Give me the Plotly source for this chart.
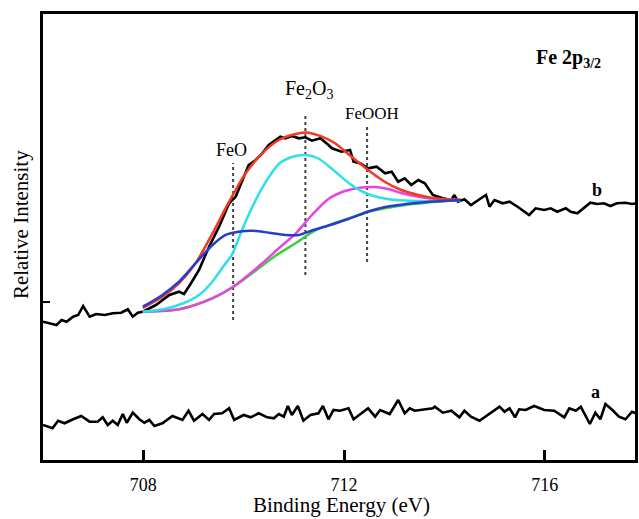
import plotly.graph_objects as go

# ---------------- data (binding energy in eV, intensity in arbitrary units) ----------------
a_x = [706.00, 706.19, 706.30, 706.43, 706.60, 706.76, 706.93, 707.09, 707.19, 707.29, 707.39, 707.49,
       707.59, 707.67, 707.79, 707.92, 708.02, 708.12, 708.22, 708.38, 708.58, 708.78, 708.90, 709.01,
       709.18, 709.31, 709.41, 709.57, 709.71, 709.81, 710.00, 710.14, 710.30, 710.47, 710.60, 710.70,
       710.80, 710.88, 710.96, 711.08, 711.19, 711.33, 711.49, 711.58, 711.69, 711.79, 711.92, 712.09,
       712.19, 712.35, 712.48, 712.62, 712.72, 712.91, 713.08, 713.21, 713.31, 713.41, 713.58, 713.77,
       713.81, 713.97, 714.14, 714.30, 714.40, 714.53, 714.70, 714.90, 715.10, 715.20, 715.30, 715.41,
       715.49, 715.62, 715.79, 715.99, 716.19, 716.39, 716.49, 716.62, 716.72, 716.90, 717.01, 717.11,
       717.21, 717.35, 717.48, 717.61, 717.74, 717.82]
a_y = [7.85, 7.11, 8.81, 8.23, 9.13, 9.87, 8.59, 8.59, 9.57, 7.85, 8.81, 7.85,
       10.31, 8.36, 10.61, 9.13, 8.36, 8.97, 7.62, 8.23, 9.87, 8.97, 11.05, 8.81,
       10.31, 8.97, 10.31, 10.47, 11.59, 8.97, 10.09, 9.57, 10.47, 9.57, 9.35, 10.31,
       9.71, 12.11, 10.09, 12.11, 8.81, 10.09, 10.47, 12.11, 9.13, 11.21, 11.05, 11.59,
       9.13, 10.47, 11.59, 9.71, 11.21, 10.31, 13.45, 10.47, 11.59, 11.05, 11.37, 11.59,
       11.95, 10.61, 11.05, 9.57, 11.05, 9.71, 8.81, 10.31, 11.95, 10.83, 11.59, 9.57,
       11.37, 11.21, 12.11, 11.21, 11.05, 9.57, 11.59, 11.05, 11.95, 8.07, 10.61, 9.13,
       12.56, 11.21, 9.71, 9.13, 10.83, 10.47]

b_x = [706.00, 706.17, 706.27, 706.37, 706.47, 706.60, 706.70, 706.80, 706.93, 707.06, 707.23, 707.39,
       707.56, 707.69, 707.79, 707.89, 707.95, 707.99, 708.25, 708.52, 708.71, 708.81, 708.95, 709.11,
       709.18, 709.31, 709.51, 709.64, 709.71, 709.84, 710.00, 710.10, 710.24, 710.37, 710.50, 710.63,
       710.73, 710.83, 710.96, 711.10, 711.23, 711.36, 711.53, 711.69, 711.76, 711.95, 712.12, 712.19,
       712.32, 712.48, 712.65, 712.82, 712.95, 713.08, 713.21, 713.34, 713.48, 713.61, 713.77, 713.97,
       714.14, 714.20, 714.27, 714.40, 714.53, 714.73, 714.83, 714.90, 715.00, 715.16, 715.30, 715.46,
       715.69, 715.82, 715.99, 716.12, 716.25, 716.42, 716.52, 716.65, 716.78, 716.91, 717.05, 717.18,
       717.31, 717.44, 717.61, 717.74, 717.82]
b_y = [31.01, 30.65, 30.27, 31.39, 31.01, 32.13, 32.51, 34.53, 32.13, 32.74, 32.51, 32.89,
       33.03, 33.79, 32.13, 33.03, 33.25, 33.25, 34.75, 37.00, 37.74, 37.22, 39.62, 42.60,
       44.46, 47.83, 52.31, 55.67, 57.56, 59.04, 63.16, 66.14, 67.26, 68.77, 70.63, 71.59,
       72.49, 72.13, 72.65, 72.13, 72.35, 71.59, 72.13, 70.63, 69.89, 69.13, 69.51, 66.88,
       66.52, 65.40, 65.76, 64.28, 64.64, 62.40, 63.16, 61.66, 62.78, 62.04, 59.42, 58.68,
       58.30, 59.42, 57.91, 58.45, 57.17, 58.68, 59.42, 56.79, 58.30, 57.56, 57.91, 56.79,
       54.93, 56.43, 56.05, 56.43, 55.67, 56.43, 55.67, 55.31, 56.43, 57.69, 57.40, 57.56,
       56.95, 57.56, 57.69, 57.40, 57.56]

# fitted envelope and components
env_x = [707.99, 708.38, 708.71, 709.04, 709.38, 709.71, 710.04, 710.37, 710.70, 711.04, 711.29, 711.56,
         711.82, 712.15, 712.48, 712.81, 713.14, 713.48, 713.81, 714.33]
env_y = [34.08, 36.61, 39.62, 44.10, 50.83, 57.91, 64.28, 68.77, 71.75, 73.09, 73.39, 72.49,
         71.01, 68.00, 65.02, 62.40, 60.54, 59.42, 58.68, 58.30]

feo_x = [707.99, 708.38, 708.71, 709.04, 709.38, 709.64, 709.90, 710.17, 710.50, 710.83, 711.10, 711.36,
         711.69, 712.09, 712.48, 712.82, 713.48, 714.33]
feo_y = [34.37, 37.00, 39.98, 44.10, 48.21, 50.45, 51.19, 51.41, 50.96, 50.45, 50.45, 51.46,
         52.58, 54.04, 55.72, 56.73, 57.69, 58.30]

fe2o3_x = [707.99, 708.42, 708.81, 709.11, 709.37, 709.60, 709.76, 710.00, 710.20, 710.44, 710.70, 710.96,
           711.23, 711.49, 711.81, 712.08, 712.38, 712.70, 713.10, 713.67, 714.33]
fe2o3_y = [33.25, 33.86, 35.20, 37.00, 39.91, 43.50, 45.96, 52.47, 57.40, 62.33, 66.37, 67.94,
           68.39, 67.60, 64.80, 62.22, 60.09, 58.86, 58.23, 58.07, 58.30]

feooh_x = [707.99, 708.71, 709.37, 709.79, 710.37, 710.70, 711.04, 711.36, 711.69, 712.02, 712.35, 712.62,
           712.88, 713.14, 713.48, 713.94, 714.33]
feooh_y = [33.25, 33.79, 36.26, 38.86, 44.10, 47.47, 50.83, 54.93, 58.52, 60.31, 61.10, 61.21,
           60.76, 59.87, 59.04, 58.41, 58.30]

bg_x = [707.99, 708.71, 709.37, 709.79, 710.20, 710.60, 711.04, 711.43, 711.89, 712.48, 713.08, 713.67, 714.33]
bg_y = [33.25, 33.79, 36.21, 38.79, 42.15, 45.52, 48.65, 51.46, 53.36, 55.61, 56.95, 57.74, 58.30]

# peak markers: position, top, bottom
mark_x = [709.79, 711.23, 712.46]
mark_top = [66.6, 77.3, 75.1]
mark_bot = [31.4, 41.5, 44.4]

tick_vals = [708, 712, 716]
tick_text = ["708", "712", "716"]

SERIF = "Liberation Serif, Times New Roman, serif"

fig = go.Figure()

for xv, yt, yb in zip(mark_x, mark_top, mark_bot):
    fig.add_trace(go.Scatter(x=[xv, xv], y=[yb, yt], mode="lines",
                             line=dict(color="#444444", width=2, dash="dot"),
                             hoverinfo="skip", showlegend=False))

fig.add_trace(go.Scatter(x=a_x, y=a_y, mode="lines", line=dict(color="black", width=2.6),
                         showlegend=False))
fig.add_trace(go.Scatter(x=b_x, y=b_y, mode="lines", line=dict(color="black", width=2.6),
                         showlegend=False))

comp = [
    (bg_x, bg_y, "#3ccf3c"),
    (feooh_x, feooh_y, "#e645e0"),
    (fe2o3_x, fe2o3_y, "#2ee0e8"),
    (env_x, env_y, "#f23a22"),
    (feo_x, feo_y, "#2a3ccc"),
]
for xs, ys, col in comp:
    fig.add_trace(go.Scatter(x=xs, y=ys, mode="lines",
                             line=dict(color=col, width=2.5, shape="spline", smoothing=0.8),
                             showlegend=False))

ann = [
    dict(x=709.75, y=69.5, text="FeO", font=dict(size=18)),
    dict(x=711.30, y=83.0, text="Fe<sub>2</sub>O<sub>3</sub>", font=dict(size=20)),
    dict(x=712.55, y=77.6, text="FeOOH", font=dict(size=17)),
    dict(x=715.78, y=90.0, text="<b>Fe 2p<sub>3/2</sub></b>", font=dict(size=20), xanchor="left"),
    dict(x=717.05, y=60.5, text="<b>b</b>", font=dict(size=18)),
    dict(x=717.01, y=15.2, text="<b>a</b>", font=dict(size=18)),
]
for a in ann:
    a.setdefault("xanchor", "center")
    a["font"].update(family=SERIF, color="black")
    fig.add_annotation(xref="x", yref="y", showarrow=False, yanchor="middle", **a)

fig.add_annotation(xref="paper", yref="paper", x=0.505, y=-0.102, text="Binding Energy (eV)",
                   showarrow=False, font=dict(family=SERIF, size=21, color="black"),
                   xanchor="center", yanchor="middle")
fig.add_annotation(xref="paper", yref="paper", x=-0.037, y=0.527, text="Relative Intensity",
                   showarrow=False, textangle=-90, font=dict(family=SERIF, size=21, color="black"),
                   xanchor="center", yanchor="middle")

fig.update_layout(
    width=639, height=519,
    margin=dict(l=43, r=1, t=14, b=59),
    paper_bgcolor="white", plot_bgcolor="white",
    font=dict(family=SERIF, color="black"),
    xaxis=dict(range=[706.0, 717.8], showgrid=False, zeroline=False,
               showline=True, linecolor="black", linewidth=3, mirror=True,
               ticks="inside", ticklen=10, tickwidth=3, tickcolor="black",
               tickvals=tick_vals, ticktext=tick_text, ticklabelstandoff=6,
               tickfont=dict(family=SERIF, size=18, color="black")),
    yaxis=dict(range=[0, 100], showgrid=False, zeroline=False,
               showline=True, linecolor="black", linewidth=3, mirror=True,
               ticks="inside", ticklen=7, tickwidth=2, tickcolor="black",
               tickvals=[35.4], ticktext=[""], showticklabels=False),
)

fig.write_html("out.html")
